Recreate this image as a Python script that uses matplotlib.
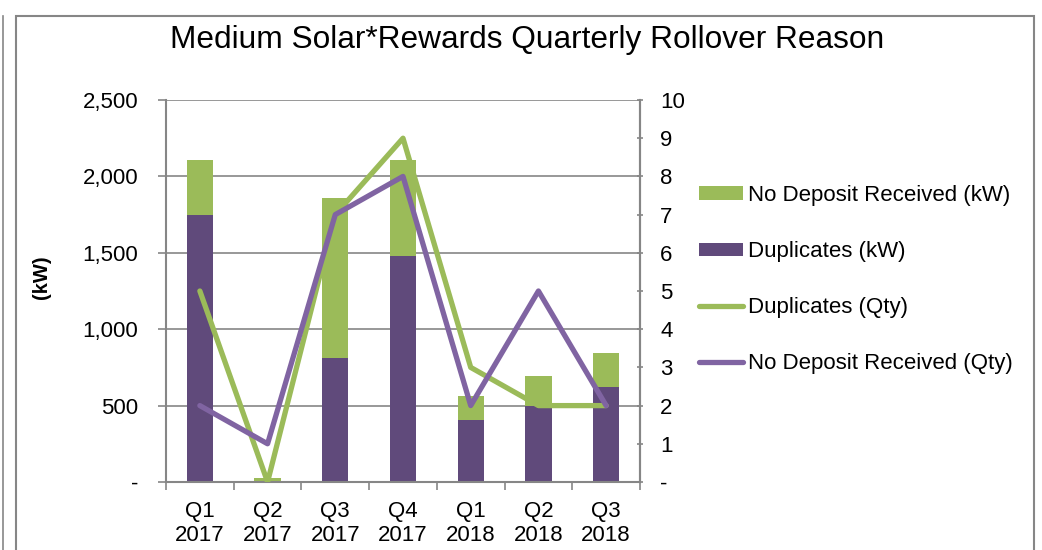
import matplotlib
matplotlib.use("Agg")
import matplotlib.pyplot as plt
from matplotlib.patches import Rectangle, Patch
from matplotlib.lines import Line2D
from matplotlib.ticker import FuncFormatter, FixedLocator
import numpy as np

plt.rcParams['font.family'] = ['Liberation Sans', 'DejaVu Sans']

categories = ["Q1\n2017", "Q2\n2017", "Q3\n2017", "Q4\n2017", "Q1\n2018", "Q2\n2018", "Q3\n2018"]
duplicates_kw = [1745, 0, 812, 1482, 404, 495, 622]
no_deposit_kw = [365, 29, 1049, 628, 157, 201, 222]
duplicates_qty = [5, 0, 7, 9, 3, 2, 2]
no_deposit_qty = [2, 1, 7, 8, 2, 5, 2]
left_ticks = [0, 500, 1000, 1500, 2000, 2500]
right_ticks = list(range(0, 11))

GREEN = "#9BBB59"
DPURPLE = "#604A7B"
LPURPLE = "#8064A2"
AXC = "#868686"
FS = 16

W, H = 1042, 550
fig = plt.figure(figsize=(W / 100, H / 100), dpi=100)

# outer frames
fig.add_artist(Rectangle((16 / W, -0.05), (1034 - 16) / W, (H - 16) / H + 0.05,
                         transform=fig.transFigure, fill=False, edgecolor=AXC, lw=1.5))
fig.add_artist(Line2D([2.5 / W, 2.5 / W], [0, (H - 16) / H], transform=fig.transFigure,
                      color=AXC, lw=1.2))

ax = fig.add_axes([166 / W, 1 - 482 / H, (640 - 166) / W, (482 - 100) / H])
x = np.arange(len(categories))
bw = 0.39
ax.bar(x, duplicates_kw, bw, color=DPURPLE, zorder=2)
ax.bar(x, no_deposit_kw, bw, bottom=duplicates_kw, color=GREEN, zorder=2)
ax.set_xlim(-0.5, len(categories) - 0.5)
ax.set_ylim(0, 2500)
ax.yaxis.set_major_locator(FixedLocator(left_ticks))
ax.yaxis.set_major_formatter(FuncFormatter(lambda v, p: "-" if v == 0 else f"{v:,.0f}"))
ax.grid(axis="y", color=AXC, lw=1.2, zorder=0)
ax.set_axisbelow(True)
ax.set_xticks(x)
ax.set_xticklabels(categories, fontsize=FS, linespacing=1.15)
ax.xaxis.set_minor_locator(FixedLocator(np.arange(-0.5, len(categories), 1)))
ax.tick_params(axis="x", which="major", length=0, pad=14)
ax.tick_params(axis="x", which="minor", length=6, color=AXC, width=1.2, direction="out")
ax.tick_params(axis="y", which="major", length=6, color=AXC, width=1.2, direction="out",
               labelsize=FS, pad=14)
ax.spines["top"].set_visible(False)
for s in ["left", "bottom", "right"]:
    ax.spines[s].set_color(AXC)
    ax.spines[s].set_linewidth(1.5)

fig.text(42 / W, 1 - 277 / H, "(kW)", rotation=90, ha="center", va="center",
         fontsize=14.5, fontweight="bold")

ax2 = ax.twinx()
ax2.plot(x, duplicates_qty, color=GREEN, lw=3.8, solid_capstyle="round", solid_joinstyle="round", zorder=3)
ax2.plot(x, no_deposit_qty, color=LPURPLE, lw=3.8, solid_capstyle="round", solid_joinstyle="round", zorder=4)
ax2.set_ylim(0, 10)
ax2.yaxis.set_major_locator(FixedLocator(right_ticks))
ax2.yaxis.set_major_formatter(FuncFormatter(lambda v, p: "-" if v == 0 else f"{v:.0f}"))
ax2.tick_params(axis="y", length=5, color=AXC, width=1.2, direction="inout",
                labelsize=FS, pad=12)
for s in ["top", "left", "bottom"]:
    ax2.spines[s].set_visible(False)
ax2.spines["right"].set_color(AXC)
ax2.spines["right"].set_linewidth(1.5)

fig.text(527 / W, 1 - 40 / H, "Medium Solar*Rewards Quarterly Rollover Reason",
         ha="center", va="center", fontsize=22.8)

handles = [
    Patch(facecolor=GREEN, edgecolor="none"),
    Patch(facecolor=DPURPLE, edgecolor="none"),
    Line2D([], [], color=GREEN, lw=3.8, solid_capstyle="round"),
    Line2D([], [], color=LPURPLE, lw=3.8, solid_capstyle="round"),
]
labels = ["No Deposit Received (kW)", "Duplicates (kW)", "Duplicates (Qty)", "No Deposit Received (Qty)"]
leg = fig.legend(handles, labels, loc="upper left", bbox_to_anchor=(699 / W, 1 - 185 / H),
                 frameon=False, fontsize=FS, handlelength=2.0, handleheight=0.55,
                 handletextpad=0.2, labelspacing=1.58, borderaxespad=0, borderpad=0)

fig.savefig("out.png", dpi=100)
